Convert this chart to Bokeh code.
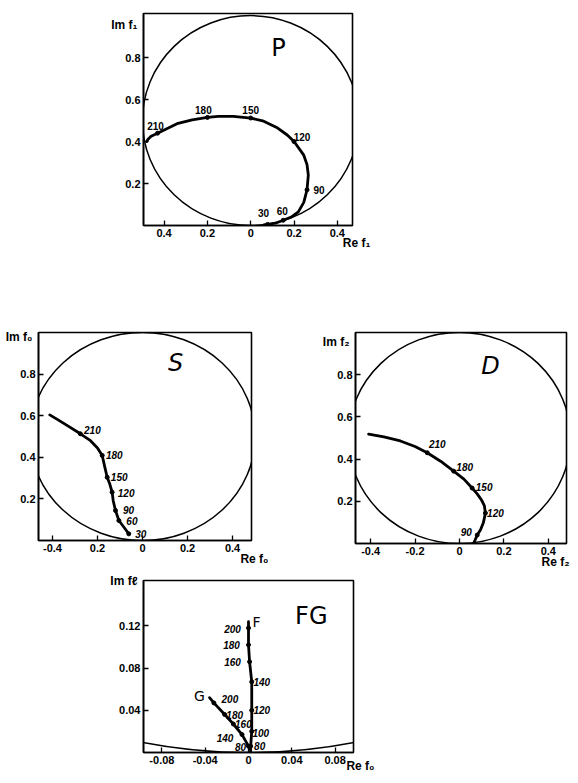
from bokeh.plotting import figure
from bokeh.models import Label, FixedTicker, ColumnDataSource, Range1d, LinearAxis, Title
from bokeh.layouts import column, row
from bokeh.embed import file_html
from bokeh.resources import INLINE
from bokeh.core.properties import value

TICK_FONT = "Liberation Sans"
LABEL_FONT = "DejaVu Sans"

# ---------------- data ----------------
# unitarity circle: centre (0, 0.5), diameter 1
CIRCLE_X, CIRCLE_Y, CIRCLE_D = 0.0, 0.5, 1.0

# P wave
p_re = [0.06, 0.078, 0.12, 0.15, 0.19, 0.22, 0.245, 0.26, 0.266, 0.26, 0.245, 0.2, 0.17,
        0.12, 0.06, 0.0, -0.08, -0.15, -0.2, -0.27, -0.34, -0.39, -0.43, -0.46, -0.475, -0.48]
p_im = [0.003, 0.005, 0.013, 0.025, 0.042, 0.065, 0.11, 0.17, 0.24, 0.29, 0.335, 0.40, 0.43,
        0.467, 0.497, 0.512, 0.52, 0.52, 0.515, 0.503, 0.485, 0.46, 0.44, 0.425, 0.41, 0.40]
p_energy = [30, 60, 90, 120, 150, 180, 210]
p_energy_re = [0.078, 0.15, 0.26, 0.2, 0.0, -0.2, -0.43]
p_energy_im = [0.005, 0.025, 0.17, 0.40, 0.512, 0.515, 0.44]

# S wave
s_re = [-0.061, -0.08, -0.105, -0.12, -0.13, -0.135, -0.145, -0.157, -0.168, -0.179,
        -0.2, -0.231, -0.276, -0.33, -0.375, -0.412]
s_im = [0.032, 0.06, 0.096, 0.144, 0.19, 0.232, 0.27, 0.304, 0.355, 0.409,
        0.445, 0.48, 0.513, 0.55, 0.58, 0.604]
s_energy = [30, 60, 90, 120, 150, 180, 210]
s_energy_re = [-0.061, -0.105, -0.12, -0.135, -0.157, -0.179, -0.276]
s_energy_im = [0.032, 0.096, 0.144, 0.232, 0.304, 0.409, 0.513]

# D wave
d_re = [0.065, 0.072, 0.08, 0.095, 0.108, 0.117, 0.112, 0.1, 0.08, 0.057, 0.02, -0.026,
        -0.085, -0.145, -0.2, -0.266, -0.34, -0.409]
d_im = [0.003, 0.02, 0.04, 0.065, 0.1, 0.144, 0.18, 0.205, 0.235, 0.263, 0.305, 0.343,
        0.39, 0.43, 0.46, 0.486, 0.505, 0.518]
d_energy = [90, 120, 150, 180, 210]
d_energy_re = [0.08, 0.117, 0.057, -0.026, -0.145]
d_energy_im = [0.04, 0.144, 0.263, 0.343, 0.43]

# F wave
f_re = [0.002, 0.002, 0.003, 0.003, 0.003, 0.001, 0.0, 0.0, 0.0]
f_im = [0.0, 0.006, 0.02, 0.04, 0.067, 0.086, 0.102, 0.118, 0.124]
f_energy = [80, 100, 120, 140, 160, 180, 200]
f_energy_re = [0.002, 0.003, 0.003, 0.003, 0.001, 0.0, 0.0]
f_energy_im = [0.006, 0.02, 0.04, 0.067, 0.086, 0.102, 0.118]

# G wave
g_re = [0.001, 0.0, -0.006, -0.014, -0.022, -0.032, -0.036]
g_im = [0.003, 0.006, 0.017, 0.027, 0.036, 0.047, 0.052]
g_energy = [80, 140, 160, 180, 200]
g_energy_re = [0.0, -0.006, -0.014, -0.022, -0.032]
g_energy_im = [0.006, 0.017, 0.027, 0.036, 0.047]

# ticks
p_xticks = [-0.4, -0.2, 0.0, 0.2, 0.4]
p_xlabels = ["0.4", "0.2", "0", "0.2", "0.4"]
s_xlabels = ["-0.4", "0.2", "0", "0.2", "0.4"]
d_xlabels = ["-0.4", "-0.2", "0", "0.2", "0.4"]
wave_yticks = [0.2, 0.4, 0.6, 0.8]
wave_ylabels = ["0.2", "0.4", "0.6", "0.8"]
fg_xticks = [-0.08, -0.04, 0.0, 0.04, 0.08]
fg_xlabels = ["-0.08", "-0.04", "0", "0.04", "0.08"]
fg_yticks = [0.04, 0.08, 0.12]
fg_ylabels = ["0.04", "0.08", "0.12"]

# axis titles and where they sit along the y axis
p_ytitle, p_ytitle_at, p_xtitle = "Im f₁", 0.957, "Re f₁"
s_ytitle, s_ytitle_at, s_xtitle = "Im f₀", 0.976, "Re f₀"
d_ytitle, d_ytitle_at, d_xtitle = "Im f₂", 0.957, "Re f₂"
fg_ytitle, fg_ytitle_at, fg_xtitle = "Im fℓ", 0.163, "Re f₀"

# label offsets (style, screen px; dy downward)
p_dx = [-4, -1, 12, 8, 0, -4, -2]
p_dy = [-11, -9, 0, -5, -8, -7, -7]
s_dx = [12, 13, 13, 14, 12, 12, 12]
s_dy = [0, 0, -1, 1, 0, 0, -4]
d_dx = [-11, 10, 12, 11, 10]
d_dy = [-3, 0, -1, -4, -9]
f_dx = [9, 9, 10, 10, -17, -17, -16]
f_dy = [0, 2, 0, 0, 0, 0, 1]
g_dx = [-8, -17, 10, 10, 16]
g_dy = [1, 3, 0, 0, -4]


def style_axis(ax, ticks, labels):
    ax.ticker = FixedTicker(ticks=ticks)
    ax.major_label_overrides = dict(zip(ticks, labels))
    ax.major_label_text_font = TICK_FONT
    ax.major_label_text_font_size = "11px"
    ax.major_label_text_font_style = "bold"
    ax.major_label_text_color = "black"
    ax.major_label_standoff = 3
    ax.major_tick_in = 5
    ax.major_tick_out = 0
    ax.minor_tick_line_color = None
    ax.axis_line_width = 1.6
    ax.axis_line_color = "black"
    ax.major_tick_line_width = 1.3
    ax.major_tick_line_color = "black"


def panel(xr, yr, fw, fh, bl, br, bt, bb, xt, xl, yt, yl, ytitle, ytitle_at, ystand,
          xtitle, xoff, xstand):
    p = figure(x_range=Range1d(*xr), y_range=Range1d(*yr), frame_width=fw, frame_height=fh,
               min_border_left=bl, min_border_right=br, min_border_top=bt, min_border_bottom=bb,
               output_backend="svg", toolbar_location=None, tools="")
    p.grid.visible = False
    p.outline_line_color = "black"
    p.outline_line_width = 1.6
    p.background_fill_color = "white"
    p.border_fill_color = "white"
    style_axis(p.xaxis[0], xt, xl)
    style_axis(p.yaxis[0], yt, yl)
    # y-axis title: a label-only axis stacked left of the main one
    yt_ax = LinearAxis(ticker=FixedTicker(ticks=[ytitle_at]),
                       major_label_overrides={ytitle_at: ytitle},
                       axis_line_color=None, major_tick_line_color=None,
                       minor_tick_line_color=None, major_tick_in=0, major_tick_out=0,
                       major_label_standoff=ystand, major_label_text_font=TICK_FONT,
                       major_label_text_font_size="12px", major_label_text_font_style="bold",
                       major_label_text_color="black")
    p.add_layout(yt_ax, "left")
    # x-axis title below, right of the frame corner
    p.add_layout(Title(text=xtitle, align="right", offset=xoff, standoff=xstand,
                       vertical_align="top", text_font=TICK_FONT, text_font_size="12px",
                       text_font_style="bold", text_color="black"), "below")
    p.ellipse(x=[CIRCLE_X], y=[CIRCLE_Y], width=CIRCLE_D, height=CIRCLE_D,
              fill_color=None, line_color="black", line_width=1.5)
    return p


def curve(p, xs, ys, ex, ey, en, dx, dy, italic):
    p.line(xs, ys, line_color="black", line_width=2.8, line_join="round", line_cap="round")
    p.scatter(ex, ey, size=4, color="black")
    src = ColumnDataSource(dict(x=ex, y=ey, t=[str(e) for e in en], dx=dx, dy=dy))
    p.text(x="x", y="y", text="t", x_offset="dx", y_offset="dy", source=src,
           text_align="center", text_baseline="middle", text_font=value(TICK_FONT),
           text_font_size="10px", text_font_style="bold italic" if italic else "bold",
           text_color="black")


def lab(p, x, y, dx, dy, txt, size="24px", style="normal"):
    p.add_layout(Label(x=x, y=y, x_offset=dx, y_offset=-dy, text=txt, text_align="center",
                       text_baseline="middle", text_font=LABEL_FONT, text_font_size=size,
                       text_font_style=style, text_color="black"))


# ---------------- P ----------------
P_XR, P_YR = (-0.495, 0.47), (0.0, 1.01)
pp = panel(P_XR, P_YR, 209, 212, 143, 218, 13, 97, p_xticks, p_xlabels, wave_yticks,
           wave_ylabels, p_ytitle, p_ytitle_at, -15, p_xtitle, -18, -8)
curve(pp, p_re, p_im, p_energy_re, p_energy_im, p_energy, p_dx, p_dy, False)
lab(pp, 0.128, 0.848, 0, 0, "P")

# ---------------- S ----------------
S_XR, S_YR = (-0.462, 0.484), (0.0, 1.0)
ps = panel(S_XR, S_YR, 213, 208, 38, 40, 10, 30, p_xticks, s_xlabels, wave_yticks,
           wave_ylabels, s_ytitle, s_ytitle_at, -15, s_xtitle, -17, -6)
curve(ps, s_re, s_im, s_energy_re, s_energy_im, s_energy, s_dx, s_dy, True)
lab(ps, 0.147, 0.851, 0, 0, "S", style="italic")

# ---------------- D ----------------
D_XR, D_YR = (-0.468, 0.482), (0.0, 1.0)
pd_ = panel(D_XR, D_YR, 211, 211, 64, 4, 9, 28, p_xticks, d_xlabels, wave_yticks,
            wave_ylabels, d_ytitle, d_ytitle_at, -15, d_xtitle, -3, -6)
curve(pd_, d_re, d_im, d_energy_re, d_energy_im, d_energy, d_dx, d_dy, True)
lab(pd_, 0.14, 0.839, 0, 0, "D", style="italic")

# ---------------- F, G ----------------
FG_XR, FG_YR = (-0.097, 0.097), (0.0, 0.163)
pf = panel(FG_XR, FG_YR, 210, 172, 142, 218, 10, 23, fg_xticks, fg_xlabels, fg_yticks,
           fg_ylabels, fg_ytitle, fg_ytitle_at, -21, fg_xtitle, -21, -16)
curve(pf, f_re, f_im, f_energy_re, f_energy_im, f_energy, f_dx, f_dy, True)
curve(pf, g_re, g_im, g_energy_re, g_energy_im, g_energy, g_dx, g_dy, True)
lab(pf, f_re[-1], f_im[-1], 8, 0, "F", size="14px")
lab(pf, g_re[-1], g_im[-1], -10, -2, "G", size="14px")
lab(pf, 0.058, 0.129, 0, 0, "FG")

layout = column(pp, row(ps, pd_), pf, spacing=0)
open("out.html", "w").write(file_html(layout, INLINE))
